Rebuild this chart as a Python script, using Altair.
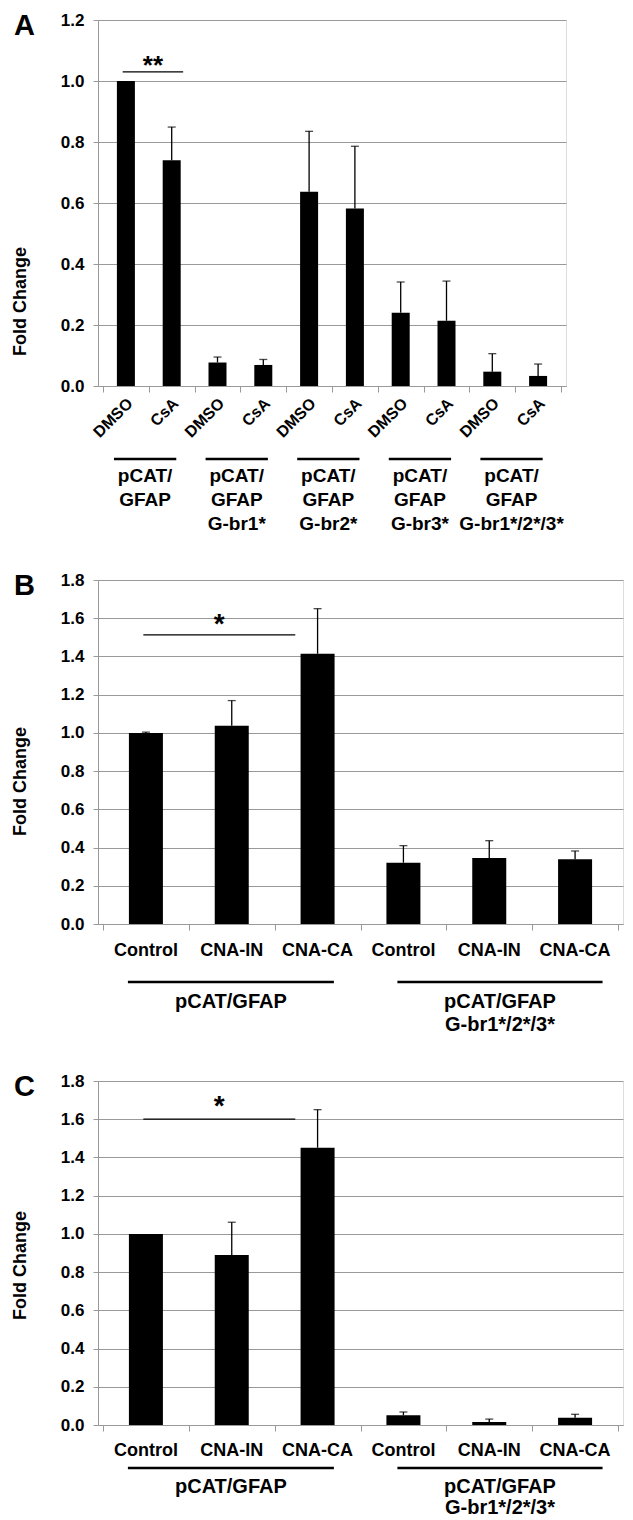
import altair as alt
import pandas as pd

# ---------------- data ----------------
A_categories = ["DMSO", "CsA", "DMSO", "CsA", "DMSO", "CsA", "DMSO", "CsA", "DMSO", "CsA"]
A_values = [1.00, 0.740, 0.077, 0.069, 0.637, 0.582, 0.240, 0.214, 0.047, 0.033]
A_errors = [0.0, 0.109, 0.018, 0.018, 0.198, 0.204, 0.101, 0.130, 0.059, 0.039]
A_groups = ["pCAT/\nGFAP", "pCAT/\nGFAP\nG-br1*", "pCAT/\nGFAP\nG-br2*",
            "pCAT/\nGFAP\nG-br3*", "pCAT/\nGFAP\nG-br1*/2*/3*"]
A_group_members = [(0, 1), (2, 3), (4, 5), (6, 7), (8, 9)]
A_sig_label = "**"
A_sig_pair = (0, 1)
A_sig_level = 1.03
A_yticks = [0.0, 0.2, 0.4, 0.6, 0.8, 1.0, 1.2]

BC_categories = ["Control", "CNA-IN", "CNA-CA", "Control", "CNA-IN", "CNA-CA"]
B_values = [1.00, 1.038, 1.414, 0.321, 0.346, 0.339]
B_errors = [0.004, 0.131, 0.236, 0.089, 0.090, 0.043]
C_values = [1.00, 0.890, 1.451, 0.051, 0.016, 0.038]
C_errors = [0.0, 0.171, 0.199, 0.017, 0.015, 0.018]
BC_groups = ["pCAT/GFAP", "pCAT/GFAP\nG-br1*/2*/3*"]
BC_group_members = [(0, 2), (3, 5)]
B_sig_label = "*"
B_sig_pair = (0, 2)
B_sig_level = 1.513
C_sig_label = "*"
C_sig_pair = (0, 2)
C_sig_level = 1.60
BC_yticks = [0.0, 0.2, 0.4, 0.6, 0.8, 1.0, 1.2, 1.4, 1.6, 1.8]

FONT = "Liberation Sans"
GRAY = "#999999"


def panel(letter, cats, vals, errs, groups, members, sig_label, sig_pair, sig_level,
          ymax, yticks, st):
    n = len(cats)
    width, height = st["width"], st["height"]
    xs = alt.Scale(domain=[-0.5, n - 0.5], nice=False, zero=False)
    ys = alt.Scale(domain=[0, ymax], nice=False, zero=True)

    df = pd.DataFrame({"pos": list(range(n)), "cat": cats, "value": vals, "err": errs})
    df["top"] = df["value"] + df["err"]

    bars = alt.Chart(df).mark_bar(size=st["bar"], color="black").encode(
        x=alt.X("pos:Q", scale=xs,
                axis=alt.Axis(values=[i - 0.5 for i in range(n + 1)], tickCount=30,
                              labels=False, ticks=True, tickSize=6, tickColor=GRAY,
                              domainColor=GRAY, grid=False, title=None)),
        y=alt.Y("value:Q", scale=ys,
                axis=alt.Axis(values=yticks, tickCount=30, format=".1f", grid=True,
                              gridColor=GRAY, tickColor=GRAY, domainColor=GRAY, tickSize=5,
                              labelOverlap=False, labelBound=False,
                              labelPadding=9, labelFontSize=17, labelFontWeight="bold",
                              labelColor="black", labelFont=FONT,
                              title="Fold Change", titleFont=FONT, titleFontSize=18,
                              titleFontWeight="bold", titleColor="black",
                              titleX=-78, titleY=st["title_y"], titleAngle=270,
                              titleAlign="center", titleBaseline="middle")),
    )

    edf = df[df["err"] > 0]
    err_rule = alt.Chart(edf).mark_rule(color="black", strokeWidth=1.3).encode(
        x=alt.X("pos:Q", scale=xs),
        y=alt.Y("value:Q", scale=ys),
        y2="top:Q",
    )
    err_cap = alt.Chart(edf).mark_tick(color="black", orient="horizontal", size=8,
                                       thickness=1.3).encode(
        x=alt.X("pos:Q", scale=xs),
        y=alt.Y("top:Q", scale=ys),
    )

    sdf = pd.DataFrame({
        "x1": [sig_pair[0] + st["sig_lo"]],
        "x2": [sig_pair[1] + st["sig_hi"]],
        "y": [sig_level],
        "label": [sig_label],
    })
    sdf["xm"] = (sdf["x1"] + sdf["x2"]) / 2
    sig_rule = alt.Chart(sdf).mark_rule(color="black", strokeWidth=1.3).encode(
        x=alt.X("x1:Q", scale=xs), x2="x2:Q",
        y=alt.Y("y:Q", scale=ys),
    )
    sig_text = alt.Chart(sdf).mark_text(font=FONT, fontSize=st["star_size"], fontWeight="bold",
                                        baseline="alphabetic", align="center",
                                        dy=st["star_dy"]).encode(
        x=alt.X("xm:Q", scale=xs),
        y=alt.Y("y:Q", scale=ys),
        text="label:N",
    )

    if st["rotate"]:
        cat_text = alt.Chart(df).mark_text(font=FONT, fontSize=st["cat_size"], fontWeight="bold",
                                           angle=315, align="right", baseline="middle",
                                           dx=3, dy=3).encode(
            x=alt.X("pos:Q", scale=xs),
            y=alt.value(height + st["cat_off"]),
            text="cat:N",
        )
    else:
        cat_text = alt.Chart(df).mark_text(font=FONT, fontSize=st["cat_size"], fontWeight="bold",
                                           align="center", baseline="middle").encode(
            x=alt.X("pos:Q", scale=xs),
            y=alt.value(height + st["cat_off"]),
            text="cat:N",
        )

    gdf = pd.DataFrame({
        "g1": [m[0] + lo for m, lo in zip(members, st["grp_lo"])],
        "g2": [m[1] + hi for m, hi in zip(members, st["grp_hi"])],
        "label": groups,
    })
    gdf["gm"] = (gdf["g1"] + gdf["g2"]) / 2
    grp_rule = alt.Chart(gdf).mark_rule(color="black", strokeWidth=2.6).encode(
        x=alt.X("g1:Q", scale=xs), x2="g2:Q",
        y=alt.value(height + st["grp_line"]),
    )
    grp_text = alt.Chart(gdf).mark_text(font=FONT, fontSize=st["grp_size"], fontWeight="bold",
                                        align="center", baseline="top", lineBreak="\n",
                                        lineHeight=st["grp_lh"]).encode(
        x=alt.X("gm:Q", scale=xs),
        y=alt.value(height + st["grp_text"]),
        text="label:N",
    )

    ldf = pd.DataFrame({"t": [letter]})
    letter_text = alt.Chart(ldf).mark_text(font=FONT, fontSize=29, fontWeight="bold",
                                           align="left", baseline="top").encode(
        x=alt.value(-84), y=alt.value(-8), text="t:N",
    )

    return alt.layer(bars, err_rule, err_cap, sig_rule, sig_text, cat_text,
                     grp_rule, grp_text, letter_text).properties(width=width, height=height)


style_A = dict(width=468, height=366, bar=18, title_y=281, sig_lo=-0.07, sig_hi=0.25,
               star_size=26, star_dy=2, rotate=True, cat_size=16, cat_off=15,
               grp_lo=[-0.26] * 5, grp_hi=[0.10] * 5, grp_line=73, grp_text=81,
               grp_size=19, grp_lh=24)
style_B = dict(width=525, height=344, bar=34, title_y=201, sig_lo=-0.03, sig_hi=-0.26,
               star_size=28, star_dy=-2, rotate=False, cat_size=18, cat_off=27,
               grp_lo=[-0.21, -0.07], grp_hi=[0.19, 0.32], grp_line=58, grp_text=68,
               grp_size=20, grp_lh=23)
style_C = dict(style_B, title_y=184, star_dy=-4, cat_off=26, grp_line=43, grp_text=52,
               grp_lh=21)

chart_A = panel("A", A_categories, A_values, A_errors, A_groups, A_group_members,
                A_sig_label, A_sig_pair, A_sig_level, 1.2, A_yticks, style_A)
chart_B = panel("B", BC_categories, B_values, B_errors, BC_groups, BC_group_members,
                B_sig_label, B_sig_pair, B_sig_level, 1.8, BC_yticks, style_B)
chart_C = panel("C", BC_categories, C_values, C_errors, BC_groups, BC_group_members,
                C_sig_label, C_sig_pair, C_sig_level, 1.8, BC_yticks, style_C)

chart = alt.vconcat(chart_A, chart_B, chart_C, spacing=35).properties(
    padding={"left": 2, "top": 2, "right": 0, "bottom": 0}
).configure_view(strokeWidth=0).configure(font=FONT)

chart.save("out.html", embed_options={"renderer": "svg", "actions": False})
